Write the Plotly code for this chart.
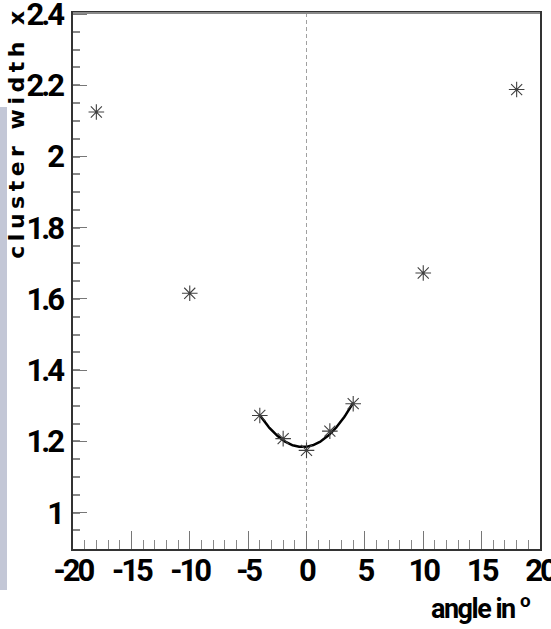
import numpy as np
import plotly.graph_objects as go

# measured cluster width vs. incidence angle
angles = [-18, -10, -4, -2, 0, 2, 4, 10, 18]
widths = [2.125, 1.616, 1.273, 1.208, 1.175, 1.229, 1.306, 1.673, 2.188]

# points used for the parabolic fit around normal incidence
fit_angles = [-4, -2, 0, 2, 4]
fit_widths = [1.273, 1.208, 1.175, 1.229, 1.306]

x_tickvals = [-20, -15, -10, -5, 0, 5, 10, 15, 20]
x_ticktext = ["-20", "-15", "-10", "-5", "0", "5", "10", "15", "20"]
y_tickvals = [1.0, 1.2, 1.4, 1.6, 1.8, 2.0, 2.2, 2.4]
y_ticktext = ["1", "1.2", "1.4", "1.6", "1.8", "2", "2.2", "2.4"]

coef = np.polyfit(fit_angles, fit_widths, 2)
xf = np.linspace(min(fit_angles), max(fit_angles), 200)
yf = np.polyval(coef, xf)


def tight(s, spacing=-3):
    return '<span style="letter-spacing:' + str(spacing) + 'px">' + s + "</span>"


TICK_FONT = dict(family="Roboto, sans-serif", size=31, color="black", weight="bold")

fig = go.Figure()

fig.add_trace(go.Scatter(
    x=xf, y=yf, mode="lines",
    line=dict(color="black", width=2.5),
    hoverinfo="skip", showlegend=False,
))

fig.add_trace(go.Scatter(
    x=angles, y=widths, mode="markers",
    marker=dict(symbol="asterisk-open", size=13, color="#404040",
                line=dict(color="#404040", width=1.1)),
    showlegend=False,
))

# dashed reference line at zero angle
fig.add_shape(type="line", xref="x", yref="paper", x0=0, x1=0, y0=0, y1=1,
              line=dict(color="#a0a0a0", width=1, dash="4px,3px"), layer="below")

# top frame line
fig.add_shape(type="line", xref="paper", yref="paper", x0=0, x1=1, y0=1, y1=1,
              line=dict(color="#8a8a8a", width=2))

# grey strip at the far left
fig.add_shape(type="rect", xref="paper", yref="paper",
              x0=-0.1563, x1=-0.1413, y0=-0.0765, y1=0.8246,
              fillcolor="#c3c7d6", line=dict(width=0), layer="below")

fig.add_annotation(
    text='<span style="letter-spacing:4.5px">cluster width x</span>',
    xref="paper", yref="paper", x=-0.1205, y=1.015, xanchor="center", yanchor="top",
    textangle=-90, showarrow=False,
    font=dict(family="DejaVu Sans, sans-serif", size=22, color="black", weight="bold"),
)

fig.add_annotation(
    text=tight("angle in <sup>o</sup>", -1.5),
    xref="paper", yref="paper", x=0.985, y=-0.1455, xanchor="right", yanchor="bottom",
    showarrow=False, font=dict(family="Roboto, sans-serif", size=27, color="black", weight="bold"),
)

fig.update_xaxes(
    range=[-20, 20], tickvals=x_tickvals, ticktext=[tight(t) for t in x_ticktext],
    ticks="inside", ticklen=18, tickwidth=1, tickcolor="#777",
    minor=dict(dtick=1, ticks="inside", ticklen=9, tickcolor="#888", tickwidth=1),
    showgrid=False, zeroline=False,
    showline=True, linecolor="#333", linewidth=1.5, mirror=True,
    tickfont=TICK_FONT, ticklabelstandoff=-7, ticklabeloverflow="allow",
    automargin=False,
)
fig.update_yaxes(
    range=[0.898, 2.403], tickvals=y_tickvals, ticktext=[tight(t) for t in y_ticktext],
    ticks="inside", ticklen=14, tickwidth=1.2, tickcolor="#777",
    minor=dict(dtick=0.05, tick0=0, ticks="inside", ticklen=7, tickcolor="#888", tickwidth=1.5),
    showgrid=False, zeroline=False,
    showline=True, linecolor="#333", linewidth=1.5, mirror=True,
    tickfont=TICK_FONT, ticklabelstandoff=3, ticklabeloverflow="allow",
    automargin=False,
)

fig.update_layout(
    width=551, height=629,
    margin=dict(l=73, r=11, t=13, b=80, autoexpand=False),
    paper_bgcolor="white", plot_bgcolor="white",
)

fig.write_html("out.html")
